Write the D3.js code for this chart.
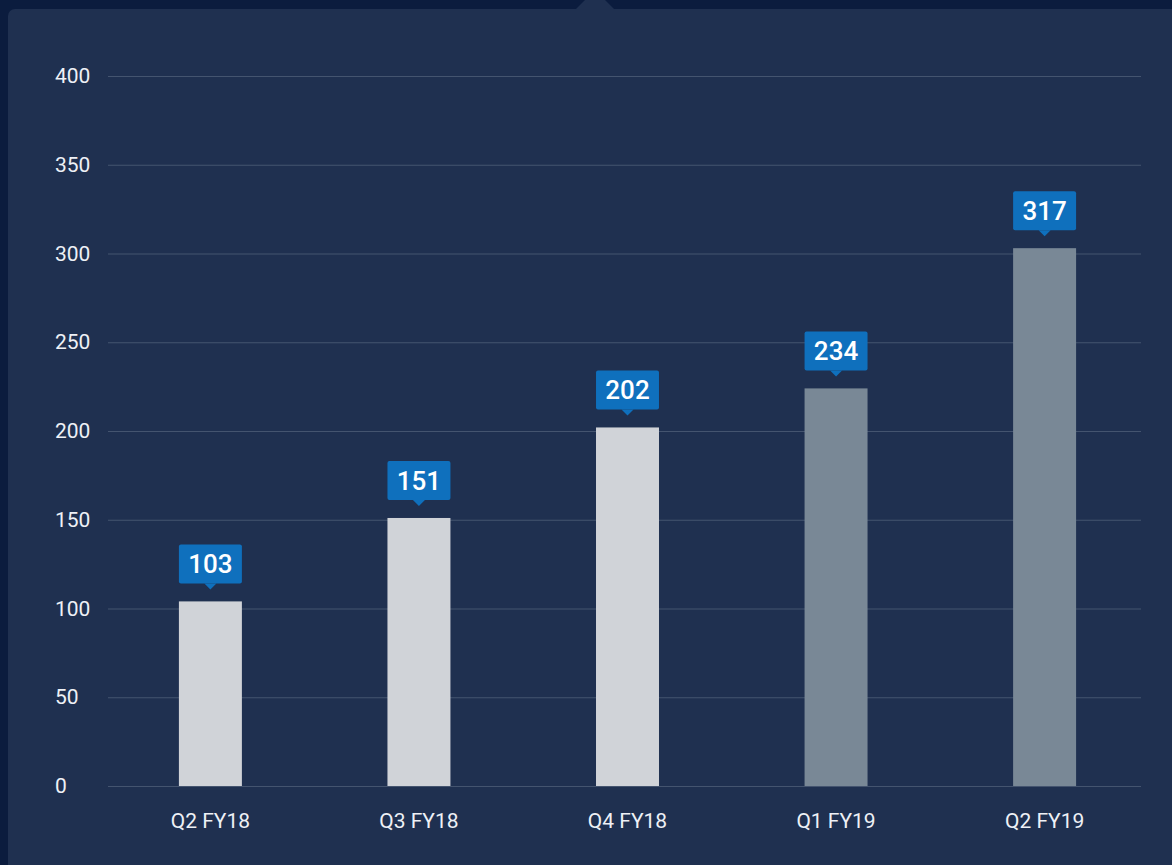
<!DOCTYPE html>
<html>
<head>
<meta charset="utf-8">
<style>
  html, body { margin: 0; padding: 0; background: #0b1c3e; }
  svg { display: block; font-family: Roboto, "Noto Sans", sans-serif; }
</style>
</head>
<body>
<div id="container"></div>
<script src="https://cdn.jsdelivr.net/npm/d3@7"></script>
<script>
    // Data
    const quarters = ["Q2 FY18", "Q3 FY18", "Q4 FY18", "Q1 FY19", "Q2 FY19"];
    const barValues = [104, 151, 202, 224, 303];
    const labelValues = [103, 151, 202, 234, 317];
    const isForecast = [false, false, false, true, true];
    const yTicks = [0, 50, 100, 150, 200, 250, 300, 350, 400];

    const W = 1172, H = 865;
    const svg = d3.select("#container").append("svg")
        .attr("width", W).attr("height", H);

    // background panel with a small notch on top
    svg.append("rect").attr("width", W).attr("height", H).attr("fill", "#0b1c3e");
    svg.append("rect")
        .attr("x", 8).attr("y", 9)
        .attr("width", W + 20).attr("height", H + 20)
        .attr("rx", 7)
        .attr("fill", "#1f3050");
    svg.append("path")
        .attr("d", "M575,10 L595,-10 L615,10 Z")
        .attr("fill", "#1f3050");

    const x = d3.scaleBand()
        .domain(quarters)
        .range([108, 1147])
        .paddingInner(0.698)
        .paddingOuter(0.34);

    const y = d3.scaleLinear().domain([0, 400]).range([786, 76]);

    // gridlines
    svg.append("g")
        .selectAll("line")
        .data(yTicks)
        .join("line")
        .attr("x1", 108).attr("x2", 1141)
        .attr("y1", d => y(d) + 0.5).attr("y2", d => y(d) + 0.5)
        .attr("stroke", "#44546f")
        .attr("stroke-width", 1);

    // y tick labels
    svg.append("g")
        .selectAll("text")
        .data(yTicks)
        .join("text")
        .attr("x", 55)
        .attr("y", d => y(d) + 7)
        .attr("fill", "#eef1f6")
        .attr("font-size", 21)
        .text(d => d);

    // bars
    svg.append("g")
        .selectAll("rect")
        .data(quarters)
        .join("rect")
        .attr("x", d => x(d))
        .attr("width", x.bandwidth())
        .attr("y", (d, i) => y(barValues[i]))
        .attr("height", (d, i) => y(0) - y(barValues[i]))
        .attr("fill", (d, i) => isForecast[i] ? "#798896" : "#d0d3d8");

    // x labels
    svg.append("g")
        .selectAll("text")
        .data(quarters)
        .join("text")
        .attr("x", d => x(d) + x.bandwidth() / 2)
        .attr("y", 828)
        .attr("text-anchor", "middle")
        .attr("fill", "#eef1f6")
        .attr("font-size", 21)
        .text(d => d);

    // value callouts
    const callouts = svg.append("g")
        .selectAll("g")
        .data(quarters)
        .join("g")
        .attr("transform", (d, i) => `translate(${x(d)},${y(barValues[i]) - 18})`);

    callouts.append("rect")
        .attr("x", 0).attr("y", -39)
        .attr("width", x.bandwidth()).attr("height", 39)
        .attr("rx", 2)
        .attr("fill", "#0f70bd");

    callouts.append("path")
        .attr("d", () => {
            const c = x.bandwidth() / 2;
            return `M${c - 6},0 L${c},6 L${c + 6},0 Z`;
        })
        .attr("fill", "#0f70bd");

    callouts.append("text")
        .attr("x", x.bandwidth() / 2)
        .attr("y", -10)
        .attr("text-anchor", "middle")
        .attr("fill", "#ffffff")
        .attr("font-size", 26)
        .attr("font-weight", 500)
        .text((d, i) => labelValues[i]);
</script>
</body>
</html>
